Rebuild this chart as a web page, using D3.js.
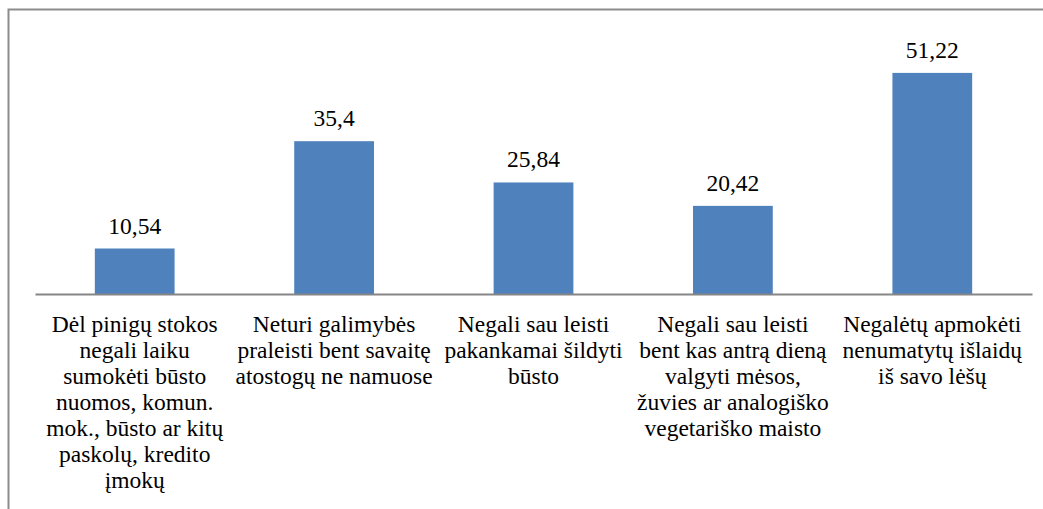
<!DOCTYPE html>
<html>
<head>
<meta charset="utf-8">
<script src="https://cdn.jsdelivr.net/npm/d3@7"></script>
</head>
<body style="margin:0">
<script>
// data
const categories = [
  ["Dėl pinigų stokos", "negali laiku", "sumokėti būsto", "nuomos, komun.", "mok., būsto ar kitų", "paskolų, kredito", "įmokų"],
  ["Neturi galimybės", "praleisti bent savaitę", "atostogų ne namuose"],
  ["Negali sau leisti", "pakankamai šildyti", "būsto"],
  ["Negali sau leisti", "bent kas antrą dieną", "valgyti mėsos,", "žuvies ar analogiško", "vegetariško maisto"],
  ["Negalėtų apmokėti", "nenumatytų išlaidų", "iš savo lėšų"]
];
const values = [10.54, 35.4, 25.84, 20.42, 51.22];
const valueLabels = ["10,54", "35,4", "25,84", "20,42", "51,22"];

// canvas
const width = 1043,
    height = 509,
    axisY = 294,
    topY = 35,
    left = 35,
    right = 1032;

const svg = d3.select("body")
    .append("svg")
    .attr("width", width)
    .attr("height", height)
    .style("display", "block")
    .attr("font-family", "Liberation Serif")
    .attr("font-size", 23.5);

// frame (cut off on the right and bottom)
svg.append("path")
    .attr("d", "M8.5," + height + "V9.5H" + width)
    .attr("fill", "none")
    .attr("stroke", "#8c8c8c")
    .attr("stroke-width", 2);

const x = d3.scaleBand()
    .domain(d3.range(values.length))
    .range([left, right])
    .paddingInner(0.6)
    .paddingOuter(0.3);

const y = d3.scaleLinear()
    .domain([0, 60])
    .range([axisY, topY]);

// bars
svg.append("g")
    .selectAll("rect")
    .data(values)
    .enter().append("rect")
    .attr("x", (d, i) => x(i))
    .attr("y", d => y(d))
    .attr("width", x.bandwidth())
    .attr("height", d => y(0) - y(d))
    .attr("fill", "#4f81bd");

// x axis line
const gx = svg.append("g")
    .attr("transform", "translate(0," + axisY + ")")
    .call(d3.axisBottom(x).tickSize(0).tickFormat(""));
gx.select(".domain")
    .attr("stroke", "#868686")
    .attr("stroke-width", 2);

// value labels
svg.append("g")
    .selectAll("text")
    .data(values)
    .enter().append("text")
    .attr("x", (d, i) => x(i) + x.bandwidth() / 2)
    .attr("y", d => y(d) - 15)
    .attr("text-anchor", "middle")
    .style("font-family", "'Liberation Serif'")
    .text((d, i) => valueLabels[i]);

// category labels, one line per tspan
categories.forEach((lines, i) => {
  const t = svg.append("text")
      .attr("text-anchor", "middle")
      .style("font-family", "'Liberation Serif'");
  lines.forEach((line, j) => {
    t.append("tspan")
        .attr("x", x(i) + x.bandwidth() / 2)
        .attr("y", axisY + 38 + j * 26)
        .text(line);
  });
});
</script>
</body>
</html>
